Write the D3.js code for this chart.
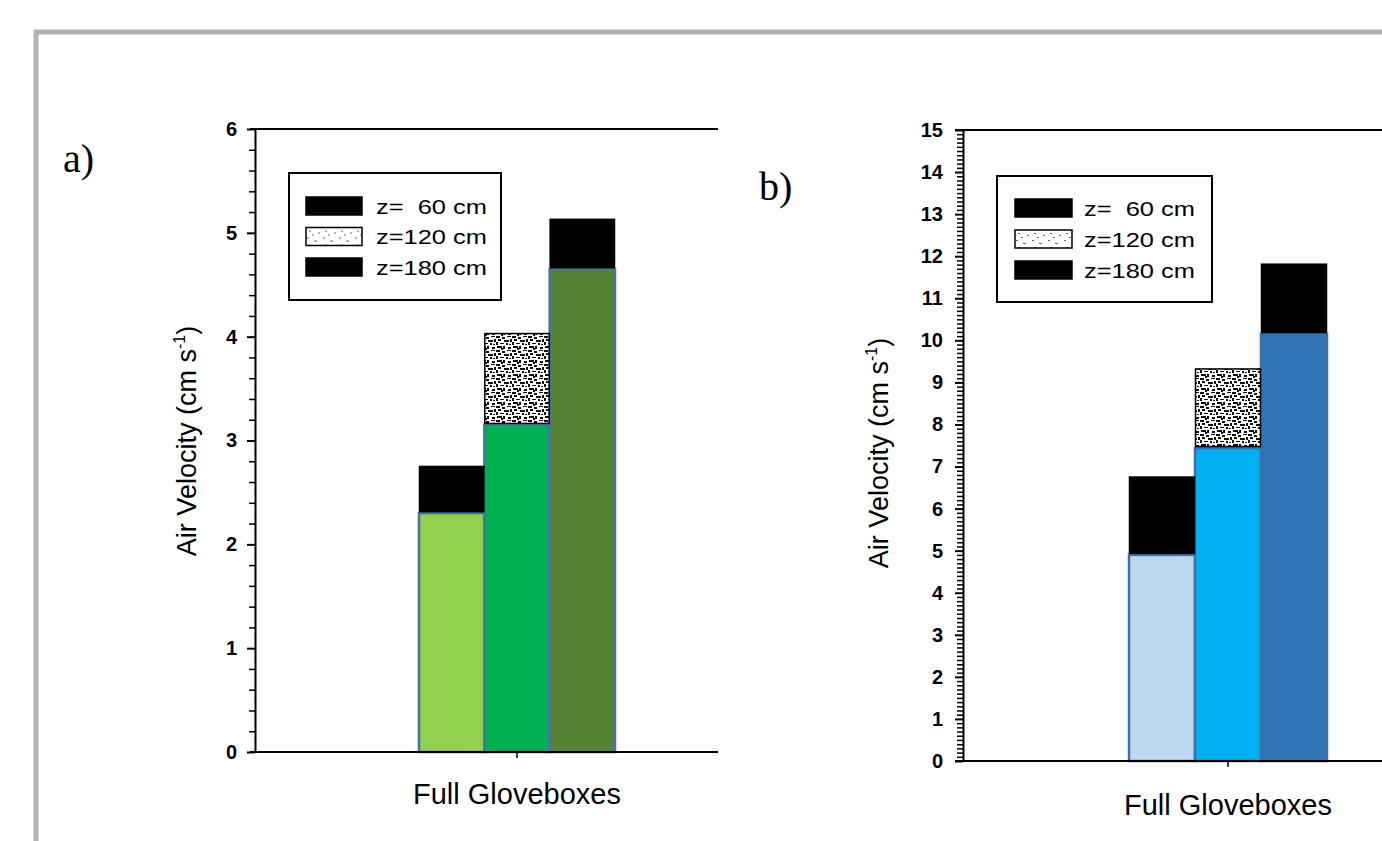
<!DOCTYPE html>
<html>
<head>
<meta charset="utf-8">
<script src="https://cdn.jsdelivr.net/npm/d3@7"></script>
<style>
  body { margin: 0; background: #fff; }
  svg { display: block; font-family: "Liberation Sans", Arial, sans-serif; }
</style>
</head>
<body>
<svg id="chart" width="1382" height="841"></svg>
<script>
// data
var categories = ["Full Gloveboxes"];
var heights = ["z=  60 cm", "z=120 cm", "z=180 cm"];
var aBase = [2.3, 3.15, 4.65];
var aTotal = [2.75, 4.03, 5.13];
var bBase = [4.9, 7.44, 10.15];
var bTotal = [6.75, 9.32, 11.81];
var aTicks = [0, 1, 2, 3, 4, 5, 6];
var bTicks = [0, 1, 2, 3, 4, 5, 6, 7, 8, 9, 10, 11, 12, 13, 14, 15];

var svg = d3.select("#chart");

// speckle texture for the z=120 cm segment
var defs = svg.append("defs");
function speckle(id, marks, ink) {
    var p = defs.append("pattern").attr("id", id)
        .attr("patternUnits", "userSpaceOnUse").attr("width", 16).attr("height", 14);
    p.append("rect").attr("width", 16).attr("height", 14).attr("fill", "#fff");
    marks.forEach(function (m) {
        p.append("rect").attr("x", m[0]).attr("y", m[1]).attr("width", m[2]).attr("height", m[3]).attr("fill", ink);
    });
}
var darkMarks = [[0, 0, 4, 2], [6, 1, 3, 2], [11, 0, 4, 1], [2, 3, 3, 2], [8, 4, 5, 2], [14, 3, 2, 3],
                 [0, 6, 2, 3], [4, 7, 4, 1], [10, 7, 2, 2], [1, 10, 5, 2], [7, 10, 2, 3], [12, 11, 3, 2],
                 [5, 12, 2, 2], [13, 8, 2, 1]];
var lightMarks = [[1, 1, 2, 1], [8, 4, 3, 1], [3, 8, 2, 1], [12, 10, 2, 1], [6, 12, 2, 1]];
speckle("speckDark", darkMarks, "#111");
speckle("speckLight", lightMarks, "#666");

// gray frame
svg.append("path").attr("d", "M36,841 V32 H1382")
    .attr("fill", "none").attr("stroke", "#b3b3b7").attr("stroke-width", 5);

function panel(o) {
    var g = svg.append("g");
    var y = d3.scaleLinear().domain([o.ticks[0], o.ticks[o.ticks.length - 1]]).range([o.bottom, o.top]);
    var x = d3.scaleBand().domain(categories).range([o.center - 200, o.center + 200]);
    var xi = d3.scaleBand().domain(heights).range([0, o.groupW]);
    var gx = x(categories[0]) + x.bandwidth() / 2 - o.groupW / 2;

    // top frame line
    g.append("line").attr("x1", o.lineStart).attr("x2", o.right).attr("y1", o.top).attr("y2", o.top)
        .attr("stroke", "#000").attr("stroke-width", 2);

    // bars
    var rows = heights.map(function (h, i) { return { h: h, base: o.base[i], total: o.total[i], i: i }; });
    g.selectAll(".base").data(rows).enter().append("rect")
        .attr("x", function (d) { return gx + xi(d.h); })
        .attr("width", xi.bandwidth())
        .attr("y", function (d) { return y(d.base); })
        .attr("height", function (d) { return y(0) - y(d.base); })
        .attr("fill", function (d) { return o.colors[d.i]; })
        .attr("stroke", o.edge).attr("stroke-width", 2.5);
    g.selectAll(".top").data(rows).enter().append("rect")
        .attr("x", function (d) { return gx + xi(d.h) + 0.5; })
        .attr("width", xi.bandwidth() - 1)
        .attr("y", function (d) { return y(d.total); })
        .attr("height", function (d) { return y(d.base) - y(d.total) - 1.5; })
        .attr("fill", function (d) { return d.i === 1 ? "url(#speckDark)" : "#000"; })
        .attr("stroke", "#000").attr("stroke-width", 1.5);

    // y axis: majors + minors
    var minors = d3.range(o.ticks[0], o.ticks[o.ticks.length - 1], 1 / o.sub).filter(function (v) {
        return Math.abs(v - Math.round(v)) > 1e-6;
    });
    g.append("g").attr("transform", "translate(" + o.left + ",0)")
        .call(d3.axisLeft(y).tickValues(minors).tickSize(6).tickFormat(""))
        .call(function (a) { a.select(".domain").remove(); a.selectAll("line").attr("stroke-width", 1.5); });
    var ya = g.append("g").attr("transform", "translate(" + o.left + ",0)")
        .call(d3.axisLeft(y).tickValues(o.ticks).tickSize(8).tickSizeOuter(0).tickFormat(d3.format("d")));
    ya.select(".domain").attr("stroke-width", 2);
    ya.selectAll("line").attr("stroke-width", 2);
    ya.selectAll("text").attr("font-size", 20).attr("font-weight", "bold").attr("x", o.labelX);

    // x axis
    var xa = g.append("g").attr("transform", "translate(0," + o.bottom + ")")
        .call(d3.axisBottom(x).tickSize(6).tickSizeOuter(0));
    xa.select(".domain").attr("d", "M" + o.lineStart + ",0H" + o.right).attr("stroke-width", 2);
    xa.selectAll("line").attr("stroke-width", 1.5);
    xa.selectAll("text").attr("font-size", 29).attr("y", 0).attr("dy", o.xLabelY);

    // y title
    var t = g.append("text").attr("transform", "translate(" + o.titleX + "," + o.titleY + ") rotate(-90)")
        .attr("text-anchor", "middle").attr("font-size", 27);
    t.append("tspan").text("Air Velocity (cm s");
    t.append("tspan").attr("font-size", 16).attr("dy", -11).text("-1");
    t.append("tspan").attr("dy", 11).text(")");

    // panel letter
    g.append("text").attr("x", o.letterX).attr("y", o.letterY)
        .attr("font-family", "'Liberation Serif', 'Times New Roman', serif").attr("font-size", 40)
        .text(o.letter);

    // legend
    var L = o.legend;
    g.append("rect").attr("x", L.x).attr("y", L.y).attr("width", L.w).attr("height", L.h)
        .attr("fill", "#fff").attr("stroke", "#000").attr("stroke-width", 2);
    var li = g.selectAll(".leg").data(heights).enter().append("g")
        .attr("transform", function (d, i) { return "translate(" + L.sx + "," + (L.first + i * L.step) + ")"; });
    li.append("rect").attr("y", -9).attr("width", L.sw).attr("height", 18)
        .attr("fill", function (d, i) { return i === 1 ? "url(#speckLight)" : "#000"; })
        .attr("stroke", "#000").attr("stroke-width", 1.5);
    li.append("text").attr("x", L.tx - L.sx).attr("dy", "0.36em").attr("font-size", 21)
        .attr("textLength", 111).attr("lengthAdjust", "spacingAndGlyphs")
        .style("white-space", "pre").text(function (d) { return d; });
}

panel({
    ticks: aTicks, sub: 5, base: aBase, total: aTotal,
    top: 129, bottom: 752, left: 255, lineStart: 250, right: 718, center: 517, groupW: 196,
    colors: ["#92d050", "#00b050", "#548235"], edge: "#4a72a8",
    labelX: -18, xLabelY: 52, titleX: 196, titleY: 441,
    letter: "a)", letterX: 63, letterY: 172,
    legend: { x: 289, y: 173, w: 212, h: 127, sx: 306, sw: 56, tx: 376, first: 206, step: 30.5 }
});
panel({
    ticks: bTicks, sub: 10, base: bBase, total: bTotal,
    top: 130, bottom: 761, left: 963, lineStart: 955, right: 1382, center: 1228, groupW: 198,
    colors: ["#bdd7ee", "#00b0f0", "#2e75b6"], edge: "#3f6fa3",
    labelX: -20, xLabelY: 54, titleX: 888, titleY: 453,
    letter: "b)", letterX: 759, letterY: 200,
    legend: { x: 997, y: 176, w: 215, h: 126, sx: 1015, sw: 57, tx: 1084, first: 208, step: 31 }
});
</script>
</body>
</html>
